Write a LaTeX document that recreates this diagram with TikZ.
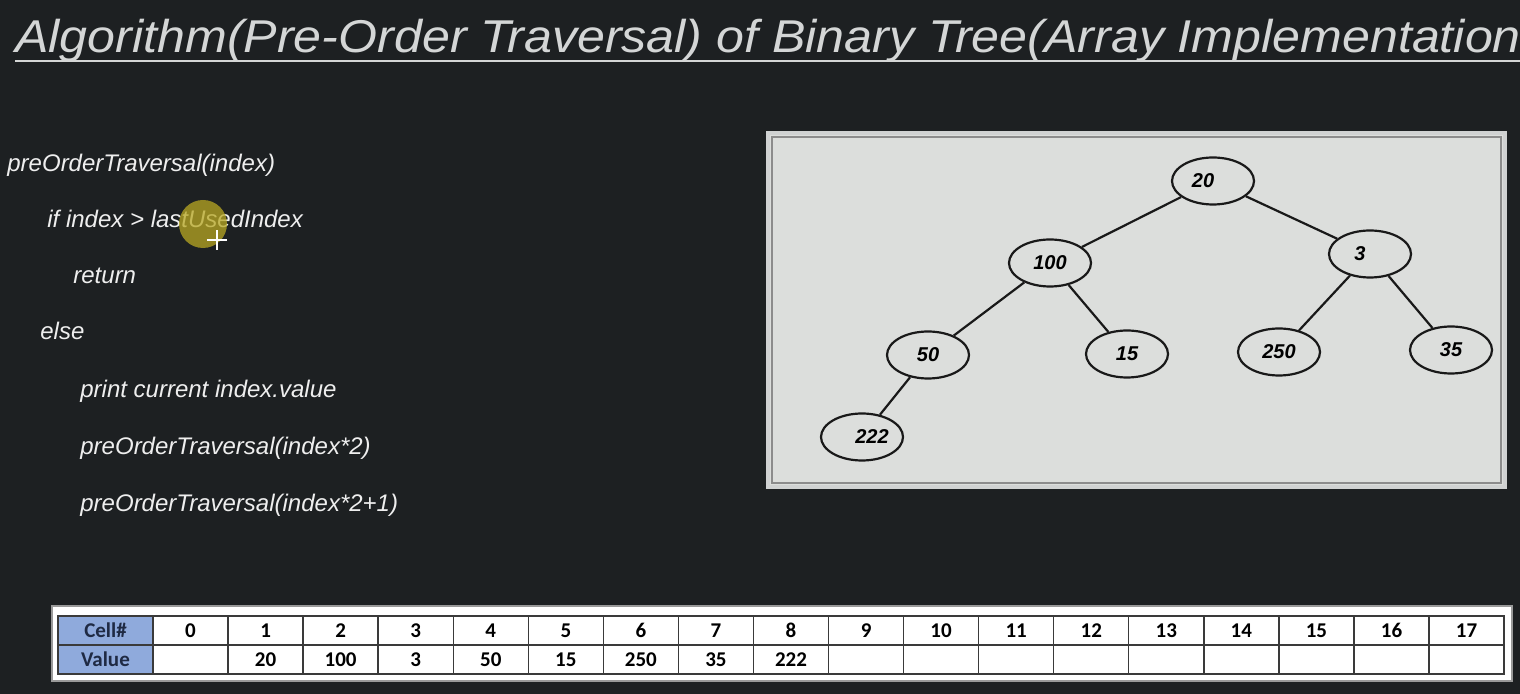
\documentclass[tikz,border=0pt]{standalone}
\usepackage{fontspec}
\setmainfont{Liberation Sans}
\newfontfamily\tablefont{Carlito}
\usetikzlibrary{shapes.geometric}
\definecolor{bg}{HTML}{1D2022}
\definecolor{titlecol}{HTML}{D4D6D6}
\definecolor{codecol}{HTML}{EEEEEE}
\definecolor{panelfill}{HTML}{DCDEDC}
\definecolor{panelborder}{HTML}{D0D2D2}
\definecolor{headblue}{HTML}{8FAADC}
\definecolor{headtext}{HTML}{1F2A44}
\definecolor{gridcol}{HTML}{3A3A3A}
\definecolor{hilite}{HTML}{B8A823}
\tikzset{
  codeline/.style={anchor=base west, inner sep=0pt, text=codecol, font=\fontsize{12pt}{14pt}\selectfont\itshape},
  treenode/.style={ellipse, draw=black!90, line width=1.1pt, fill=panelfill, minimum width=41pt, minimum height=23.5pt, inner sep=0pt, font=\fontsize{10pt}{11pt}\selectfont\bfseries\itshape},
  edge/.style={draw=black!90, line width=1.1pt},
  cellbox/.style={draw=gridcol, line width=0.7pt, fill=white, minimum width=37.53pt, minimum height=14.5pt, inner sep=0pt, font=\tablefont\fontsize{10.5pt}{11pt}\selectfont\bfseries},
  headbox/.style={cellbox, fill=headblue, minimum width=47.5pt, text=headtext},
}
\begin{document}
\begin{tikzpicture}[x=0.5pt,y=-0.5pt]
\useasboundingbox (0,0) rectangle (1520,694);
\fill[bg] (0,0) rectangle (1520,694);
% title
\begin{scope}
\clip (0,0) rectangle (1520,694);
\node[anchor=base west, inner sep=0pt, text=titlecol, font=\fontsize{23pt}{26pt}\selectfont\itshape] (title) at (15,53) {\scalebox{1.09}[1]{Algorithm(Pre-Order Traversal) of Binary Tree(Array Implementation}};
\coordinate (ulL) at (15,61);
\coordinate (ulR) at (1520,61);
\draw[titlecol, line width=1.4pt] (ulL) -- (ulR);
\end{scope}
% code
\node[codeline] (l1) at (7,172) {preOrderTraversal(index)};
\node[codeline] (l2) at (47,228) {if index > lastUsedIndex};
\node[codeline] (l3) at (73,284) {return};
\node[codeline] (l4) at (40,340) {else};
\node[codeline] (l5) at (80,398) {print current index.value};
\node[codeline] (l6) at (80,455) {preOrderTraversal(index*2)};
\node[codeline] (l7) at (80,512) {preOrderTraversal(index*2+1)};
% cursor highlight
\fill[hilite, opacity=0.75] (203,224) circle (24);
\coordinate (cx) at (217,240);
\draw[white, line width=1pt] ([xshift=-5pt]cx) -- ([xshift=5pt]cx);
\draw[white, line width=1pt] ([yshift=-5pt]cx) -- ([yshift=5pt]cx);
% tree panel
\draw[panelborder, fill=panelfill, line width=2pt] (768,133) rectangle (1505,487);
\draw[black!45, line width=0.6pt] (772,137) rectangle (1501,483);
\node[treenode] (n20) at (1213,181) {20\hspace*{10pt}};
\node[treenode] (n100) at (1050,263) {100};
\node[treenode] (n3) at (1370,254) {3\hspace*{10pt}};
\node[treenode] (n50) at (928,355) {50};
\node[treenode] (n15) at (1127,354) {15};
\node[treenode] (n250) at (1279,352) {250};
\node[treenode] (n35) at (1451,350) {35};
\node[treenode] (n222) at (862,437) {\hspace*{10pt}222};
\draw[edge] (n20) -- (n100);
\draw[edge] (n20) -- (n3);
\draw[edge] (n100) -- (n50);
\draw[edge] (n100) -- (n15);
\draw[edge] (n3) -- (n250);
\draw[edge] (n3) -- (n35);
\draw[edge] (n50) -- (n222);
% table
\draw[fill=white, draw=black!40, line width=1pt] (52,606) rectangle (1512,681);
\node[headbox] (hcell) at (105.5,630.5) {Cell\#};
\node[headbox] (hval) at (105.5,659.5) {Value};
\foreach \i/\v in {0/,1/20,2/100,3/3,4/50,5/15,6/250,7/35,8/222,9/,10/,11/,12/,13/,14/,15/,16/,17/}{
  \pgfmathsetmacro{\cxx}{153+75.06*(\i+0.5)}
  \node[cellbox] (c\i) at (\cxx,630.5) {\i};
  \node[cellbox] (v\i) at (\cxx,659.5) {\v};
}
\end{tikzpicture}
\end{document}
